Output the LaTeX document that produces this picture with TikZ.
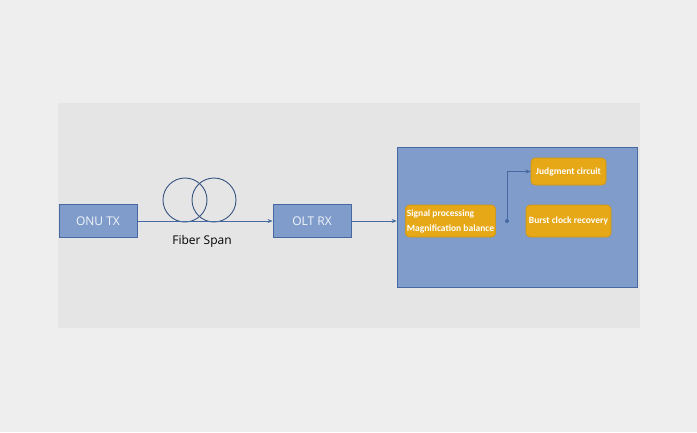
\documentclass[tikz,border=0pt]{standalone}
\usepackage{fontspec}
\setmainfont{Open Sans}
\newfontfamily\calfont{Carlito}
\usetikzlibrary{arrows.meta,positioning}
\definecolor{pagegray}{HTML}{EEEEEE}
\definecolor{panelgray}{HTML}{E5E5E5}
\definecolor{myblue}{HTML}{7F9CCB}
\definecolor{myblueline}{HTML}{4569A0}
\definecolor{myorange}{HTML}{E6A817}
\definecolor{myorangeline}{HTML}{D0960C}
\tikzset{
  bluebox/.style={draw=myblueline, fill=myblue, line width=0.8pt, text=white!90!myblue,
                  minimum width=78pt, minimum height=33pt, font=\fontsize{12}{14}\selectfont},
  orangebox/.style={draw=myorangeline, fill=myorange, rounded corners=4pt, line width=0.6pt,
                    text=white, font=\calfont\bfseries\fontsize{9.5}{15}\selectfont, align=left,
                    inner sep=1.5pt},
  arr/.style={-{Stealth[length=5pt,width=4pt]}, draw=myblueline, line width=0.8pt},
  coil/.style={draw=myblueline!80!black, line width=0.9pt},
}
\begin{document}
\begin{tikzpicture}[x=1pt,y=-1pt]
  \fill[pagegray] (0,0) rectangle (697,432);
  \useasboundingbox (0,0) rectangle (697,432);
  \fill[panelgray] (58,103) rectangle (640,328);
  % transmitter, fiber, receiver
  \node[bluebox] (onu) at (98,221) {ONU TX};
  \node[bluebox] (olt) at (312,221) {OLT RX};
  \node[coil, circle, minimum size=44pt, inner sep=0pt] (c1) at (185,200) {};
  \node[coil, circle, minimum size=44pt, inner sep=0pt] (c2) at (214,200) {};
  \node[font=\fontsize{12}{14}\selectfont] (span) at (202,241) {Fiber Span};
  \draw[arr] (onu) -- (olt);
  % receiver block
  \node[draw=myblueline, fill=myblue, line width=0.6pt, minimum width=240pt, minimum height=140pt]
        (rx) at (517,217) {};
  \draw[arr] (olt.east) -- (olt.east -| rx.west);
  \node[orangebox, minimum width=85pt, minimum height=32pt] (sig) at (450.5,221)
        {Signal processing\\Magnification balance};
  \node[orangebox, minimum width=75pt, minimum height=27pt] (judge) at (568.5,171.5) {Judgment circuit};
  \node[orangebox, minimum width=85pt, minimum height=32pt] (burst) at (568.5,221) {Burst clock recovery};
  \coordinate (split) at (507,221);
  \fill[myblueline] (split) circle (2pt);
  \draw[arr] (split) |- (judge.west);
\end{tikzpicture}
\end{document}
